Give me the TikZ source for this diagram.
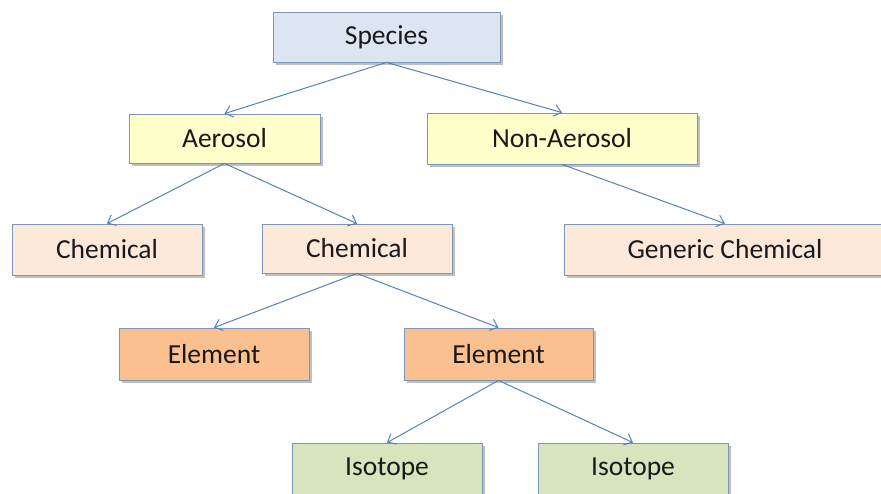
\documentclass[tikz,border=0pt]{standalone}
\usepackage{fontspec}
\setmainfont{Carlito}
\usetikzlibrary{shadows,arrows.meta}
\definecolor{bordc}{RGB}{125,150,185}
\definecolor{arrc}{RGB}{85,130,190}
\definecolor{fspec}{RGB}{220,230,242}
\definecolor{faer}{RGB}{255,255,204}
\definecolor{fchem}{RGB}{253,233,217}
\definecolor{felem}{RGB}{250,192,144}
\definecolor{fiso}{RGB}{215,228,189}
\tikzset{
  boxnode/.style={draw=bordc, line width=0.8pt, rectangle, inner sep=0pt,
    font=\fontsize{27.5}{30}\selectfont, text=black!90,
    drop shadow={shadow xshift=2.5pt, shadow yshift=-3pt, fill=black!45, opacity=0.55}},
  link/.style={draw=arrc, line width=1pt, -{Straight Barb[length=7pt,width=12pt]}}
}
\begin{document}
\begin{tikzpicture}[x=1pt,y=-1pt]
\useasboundingbox (0,0) rectangle (881,493);
\fill[white] (0,0) rectangle (881,493);
\node[boxnode, fill=fspec, minimum width=227pt, minimum height=50pt] (spec) at (386.5,37) {Species};
\node[boxnode, fill=faer, minimum width=191pt, minimum height=49pt] (aer) at (224.5,138.5) {Aerosol};
\node[boxnode, fill=faer, minimum width=270pt, minimum height=51pt] (naer) at (562,138.5) {Non-Aerosol};
\node[boxnode, fill=fchem, minimum width=190pt, minimum height=51pt] (chemL) at (107,249.5) {Chemical};
\node[boxnode, fill=fchem, minimum width=190pt, minimum height=49pt] (chemM) at (357,248.5) {Chemical};
\node[boxnode, fill=fchem, minimum width=322pt, minimum height=51pt] (gen) at (725,249.5) {Generic Chemical};
\node[boxnode, fill=felem, minimum width=190pt, minimum height=52pt] (elemL) at (214,354) {Element};
\node[boxnode, fill=felem, minimum width=189pt, minimum height=52pt] (elemR) at (498.5,354) {Element};
\node[boxnode, fill=fiso, minimum width=190pt, minimum height=51pt] (isoL) at (387,468.5) {Isotope};
\node[boxnode, fill=fiso, minimum width=190pt, minimum height=51pt] (isoR) at (633,468.5) {Isotope};
\draw[link] (spec.south) -- (aer.north);
\draw[link] (spec.south) -- (naer.north);
\draw[link] (aer.south) -- (chemL.north);
\draw[link] (aer.south) -- (chemM.north);
\draw[link] (naer.south) -- (gen.north);
\draw[link] (chemM.south) -- (elemL.north);
\draw[link] (chemM.south) -- (elemR.north);
\draw[link] (elemR.south) -- (isoL.north);
\draw[link] (elemR.south) -- (isoR.north);
\end{tikzpicture}
\end{document}
